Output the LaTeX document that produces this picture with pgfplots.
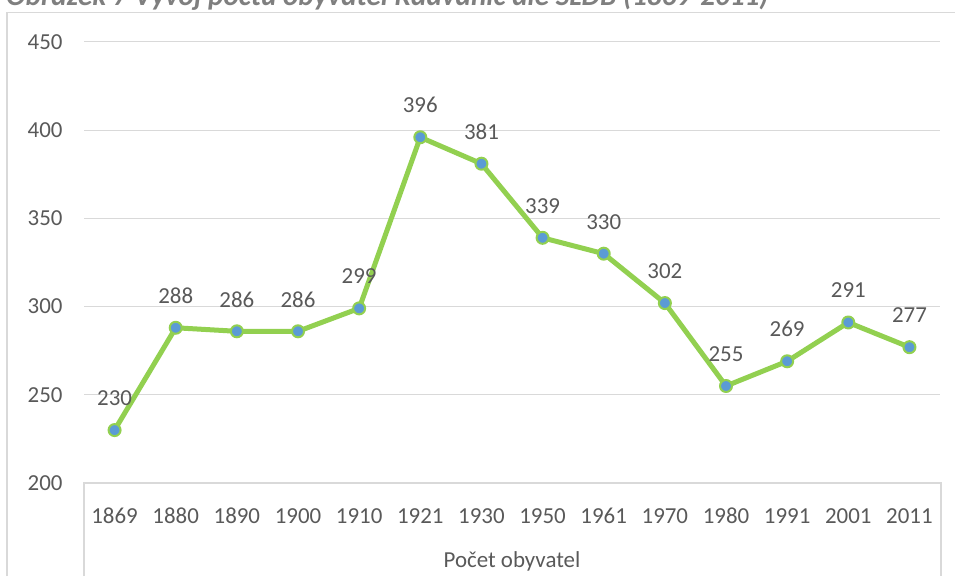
\documentclass[border=0pt]{standalone}
\usepackage{fontspec}
\setmainfont{Carlito}
\usepackage{pgfplots}
\pgfplotsset{compat=1.18}
\definecolor{lineGreen}{HTML}{92D050}
\definecolor{dotBlue}{HTML}{5B9BD5}
\definecolor{txtGray}{HTML}{595959}
\definecolor{gridGray}{HTML}{D9D9D9}
\definecolor{titleGray}{HTML}{7F7F7F}

\begin{document}
\begin{tikzpicture}[x=1bp,y=1bp]
\useasboundingbox (0,0) rectangle (955,-583);
\clip (0,0) rectangle (955,-583);
% cut-off caption and chart frame
\node[anchor=base west, inner sep=0, text=titleGray, font=\fontsize{29.3}{32}\selectfont\bfseries\itshape]
  at (6,-6) {Obrázek 7 Vývoj počtu obyvatel Radvanic dle SLDB (1869-2011)};
\draw[gridGray, line width=1.5bp] (7,-576) -- (7,-12.5) -- (960,-12.5);
\begin{axis}[
  at={(84bp,-483bp)}, anchor=south west,
  scale only axis, width=856bp, height=441bp,
  xmin=-0.5, xmax=13.5, ymin=200, ymax=450,
  xtick={0,...,13},
  xticklabels={1869,1880,1890,1900,1910,1921,1930,1950,1961,1970,1980,1991,2001,2011},
  ytick={200,250,...,450},
  axis line style={draw=none},
  tick style={draw=none},
  ymajorgrids, grid style={gridGray, line width=1bp},
  /pgf/number format/assume math mode=true,
  tick label style={text=txtGray, font=\fontsize{23}{26}\selectfont},
  xticklabel style={anchor=center, yshift=-33bp},
  yticklabel style={anchor=east, xshift=-18bp},
  xlabel={Počet obyvatel},
  every axis x label/.style={at={(axis description cs:0.5,0)}, anchor=center,
    yshift=-78bp, text=txtGray, font=\fontsize{23}{26}\selectfont},
  clip=false,
]
\addplot[lineGreen, line width=5bp, line join=round,
  mark=*, mark size=6bp,
  mark options={fill=dotBlue, draw=lineGreen, line width=2bp},
  nodes near coords,
  nodes near coords style={anchor=center, yshift=32bp, text=txtGray,
    font=\fontsize{23}{26}\selectfont}]
coordinates {(0,230)(1,288)(2,286)(3,286)(4,299)(5,396)(6,381)(7,339)(8,330)(9,302)(10,255)(11,269)(12,291)(13,277)};
\end{axis}
% category axis box
\draw[gridGray, line width=1.5bp] (84,-576) -- (84,-483) -- (941,-483) -- (941,-576);
\end{tikzpicture}
\end{document}
